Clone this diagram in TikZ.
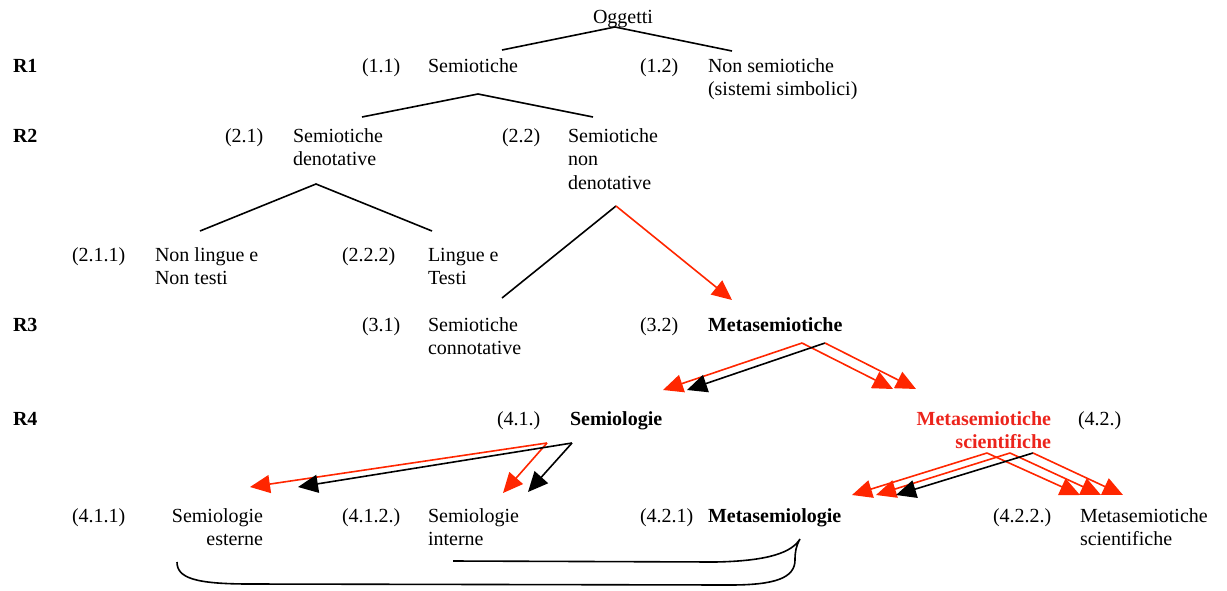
\documentclass[tikz,border=0pt]{standalone}
\usepackage{fontspec}
\setmainfont{Liberation Serif}
\usetikzlibrary{arrows.meta}
\definecolor{arrowred}{RGB}{255,38,0}
\definecolor{labelred}{RGB}{236,36,28}

\begin{document}
\begin{tikzpicture}[x=1pt,y=-1pt,
  every node/.style={inner sep=0pt, outer sep=0pt, font=\fontsize{20}{23.5}\selectfont},
  lbl/.style={anchor=base west, align=left},
  num/.style={anchor=base west},
  lvl/.style={anchor=base west, font=\fontsize{20}{23.5}\selectfont\bfseries},
  % multi-line nodes sit on their last baseline: move them down by the extra lines
  twolines/.style={yshift=-23.5pt},
  threelines/.style={yshift=-47pt},
  branch/.style={line width=1.6pt, line cap=butt, line join=miter},
  redbranch/.style={branch, draw=arrowred},
  tipend/.style={-{Triangle[length=20pt,width=18pt]}},
  redtip/.style={redbranch, tipend, fill=arrowred},
  blacktip/.style={branch, tipend},
]
\useasboundingbox (0,0) rectangle (1227,590);

% level labels
\node[lvl] (r1) at (13,72) {R1};
\node[lvl] (r2) at (13,142) {R2};
\node[lvl] (r3) at (13,331) {R3};
\node[lvl] (r4) at (13,425) {R4};

% root and first split
\node[anchor=base] (ogg) at (623,23) {Oggetti};
\node[num] (n11) at (362,72) {(1.1)};
\node[lbl] (sem) at (428,72) {Semiotiche};
\node[num] (n12) at (640,72) {(1.2)};
\node[lbl, twolines] (nonsem) at (708,72) {Non semiotiche\\(sistemi simbolici)};

% second level
\node[num] (n21) at (225,142) {(2.1)};
\node[lbl, twolines] (den) at (293,142) {Semiotiche\\denotative};
\node[num] (n22) at (502,142) {(2.2)};
\node[lbl, threelines] (nden) at (568,142) {Semiotiche\\non\\denotative};

% languages and texts
\node[num] (n211) at (72,261) {(2.1.1)};
\node[lbl, twolines] (nonling) at (155,261) {Non lingue e\\Non testi};
\node[num] (n222) at (342,261) {(2.2.2)};
\node[lbl, twolines] (ling) at (428,261) {Lingue e\\Testi};

% third level
\node[num] (n31) at (362,331) {(3.1)};
\node[lbl, twolines] (conn) at (428,331) {Semiotiche\\connotative};
\node[num] (n32) at (640,331) {(3.2)};
\node[lvl] (meta) at (708,331) {Metasemiotiche};

% fourth level
\node[num] (n41) at (497,425) {(4.1.)};
\node[lvl] (semiol) at (570,425) {Semiologie};
\node[anchor=base east, align=right, text=labelred, twolines,
      font=\fontsize{20}{23.5}\selectfont\bfseries] (metasci) at (1051,425)
      {Metasemiotiche\\scientifiche};
\node[num] (n42) at (1078,425) {(4.2.)};

% leaves
\node[num] (n411) at (72,522) {(4.1.1)};
\node[anchor=base east, align=right, twolines] (est) at (263,522) {Semiologie\\esterne};
\node[num] (n412) at (342,522) {(4.1.2.)};
\node[lbl, twolines] (int) at (428,522) {Semiologie\\interne};
\node[num] (n421) at (640,522) {(4.2.1)};
\node[lvl] (metasemiol) at (708,522) {Metasemiologie};
\node[num] (n422) at (993,522) {(4.2.2.)};
\node[lbl, twolines] (metasci2) at (1080,522) {Metasemiotiche\\scientifiche};

% branch points
\coordinate (og-top) at (615,27);
\coordinate (og-l) at (502,50);
\coordinate (og-r) at (732,51);
\coordinate (s-top) at (478,94);
\coordinate (s-l) at (362,117);
\coordinate (s-r) at (593,117);
\coordinate (d-top) at (316,184);
\coordinate (d-l) at (200,231);
\coordinate (d-r) at (432,231);
\coordinate (nd-top) at (616,206);
\coordinate (nd-l) at (502,298);
\coordinate (nd-r) at (732,300);

% plain tree branches
\draw[branch] (og-l) -- (og-top) -- (og-r);
\draw[branch] (s-l) -- (s-top) -- (s-r);
\draw[branch] (d-l) -- (d-top) -- (d-r);
\draw[branch] (nd-l) -- (nd-top);
\draw[redtip] (nd-top) -- (nd-r);

% Metasemiotiche split
\coordinate (m-a) at (802,343);
\coordinate (m-b) at (825,343);
\coordinate (m-l1) at (663,390);
\coordinate (m-l2) at (687,390);
\coordinate (m-r1) at (893,389);
\coordinate (m-r2) at (916,389);
\draw[redtip] (m-a) -- (m-l1);
\draw[redtip] (m-a) -- (m-r1);
\draw[blacktip] (m-b) -- (m-l2);
\draw[redtip] (m-b) -- (m-r2);

% Semiologie split
\coordinate (sl-a) at (547,443);
\coordinate (sl-b) at (572,443);
\coordinate (sl-l1) at (250,487);
\coordinate (sl-l2) at (298,487);
\coordinate (sl-r1) at (503,493);
\coordinate (sl-r2) at (528,492);
\draw[redtip] (sl-a) -- (sl-l1);
\draw[redtip] (sl-a) -- (sl-r1);
\draw[blacktip] (sl-b) -- (sl-l2);
\draw[blacktip] (sl-b) -- (sl-r2);

% Metasemiotiche scientifiche split
\coordinate (ms-a) at (987,453);
\coordinate (ms-b) at (1010,453);
\coordinate (ms-c) at (1033,453);
\coordinate (ms-l1) at (852,495);
\coordinate (ms-l2) at (876,495);
\coordinate (ms-l3) at (896,495);
\coordinate (ms-r1) at (1080,495);
\coordinate (ms-r2) at (1101,495);
\coordinate (ms-r3) at (1123,495);
\draw[redtip] (ms-a) -- (ms-l1);
\draw[redtip] (ms-a) -- (ms-r1);
\draw[redtip] (ms-b) -- (ms-l2);
\draw[redtip] (ms-b) -- (ms-r2);
\draw[blacktip] (ms-c) -- (ms-l3);
\draw[redtip] (ms-c) -- (ms-r3);

% brace-like bracket under the leaves
\coordinate (br-in) at (453,561);
\coordinate (br-tip) at (800,539);
\coordinate (br-out) at (177,562);
\draw[branch]
  (br-in) -- (715,562)
  .. controls (770,561) and (792,552) .. (br-tip)
  .. controls (796,546) and (795,552) .. (795,560)
  .. controls (795,578) and (775,585) .. (730,585)
  -- (250,584)
  .. controls (195,584) and (177,578) .. (br-out);
\end{tikzpicture}
\end{document}
